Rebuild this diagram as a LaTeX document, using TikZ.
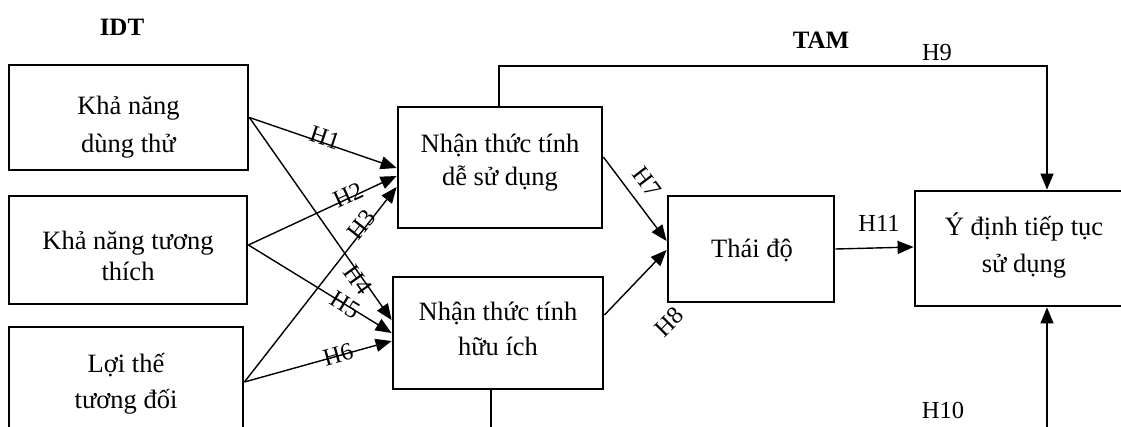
\documentclass[tikz,border=0pt]{standalone}
\usepackage{fontspec}
\setmainfont{Liberation Serif}
\usetikzlibrary{arrows.meta}
\begin{document}
\begin{tikzpicture}[x=1pt,y=-1pt,
  box/.style={draw,line width=2.8pt,rectangle,inner sep=0pt},
  txt/.style={align=center,anchor=base,inner sep=0pt,font=\fontsize{26.5}{35}\selectfont},
  hlab/.style={inner sep=0pt,font=\fontsize{24.5}{28}\selectfont},
  head/.style={inner sep=0pt,font=\fontsize{25}{28}\selectfont\bfseries},
  conn/.style={line width=1.4pt},
  arr/.style={conn,-{Triangle[length=16pt,width=13pt]}}]
\useasboundingbox (0,0) rectangle (1121,426);
\clip (0,0) rectangle (1121,426);
\fill[white] (0,0) rectangle (1121,426);
% boxes
\node[box,minimum width=239,minimum height=105] (b1) at (128.5,117.5) {};
\node[box,minimum width=238,minimum height=108] (b2) at (128,250) {};
\node[box,minimum width=234,minimum height=118] (b3) at (126,386) {};
\node[box,minimum width=204,minimum height=121] (dsd) at (500,167.5) {};
\node[box,minimum width=210,minimum height=112] (hi) at (498,333) {};
\node[box,minimum width=166,minimum height=106] (td) at (751,249) {};
\node[box,minimum width=216,minimum height=115] (yd) at (1023,248.5) {};
% texts (base anchor = last line's baseline)
\node[txt,font=\fontsize{26.5}{38}\selectfont] (t1) at (128.5,152) {Khả năng\\dùng thử};
\node[txt,font=\fontsize{26.5}{31}\selectfont] (t2) at (128,280) {Khả năng tương\\thích};
\node[txt,font=\fontsize{26.5}{36}\selectfont] (t3) at (126,408) {Lợi thế\\tương đối};
\node[txt,font=\fontsize{26.5}{33}\selectfont] (t4) at (500,185) {Nhận thức tính\\dễ sử dụng};
\node[txt] (t5) at (498,355) {Nhận thức tính\\hữu ích};
\node[txt] (t6) at (752,257) {Thái độ};
\node[txt,font=\fontsize{26.5}{37}\selectfont] (t7) at (1024,272) {Ý định tiếp tục\\sử dụng};
% headings
\node[head] (idt) at (122,27) {IDT};
\node[head] (tam) at (821,40) {TAM};
% connectors from IDT
\draw[arr] (b1.east) -- (dsd.west |- 0,168);
\draw[arr] (b1.east) -- (hi.west |- 0,320);
\draw[arr] (b2.east |- 0,245) -- (dsd.west |- 0,176);
\draw[arr] (b2.east |- 0,245) -- (hi.west |- 0,333);
\draw[arr] (b3.east |- 0,382) -- (dsd.west |- 0,187);
\draw[arr] (b3.east |- 0,382) -- (hi.west |- 0,341);
% TAM connectors
\draw[arr] (dsd.east |- 0,157) -- (td.west |- 0,241);
\draw[arr] (hi.east |- 0,315) -- (td.west |- 0,250);
\draw[arr] (td.east) -- (yd.west |- 0,247);
\coordinate (c9) at (1047,66);
\coordinate (c9s) at (499,66);
\draw[arr] (dsd.north -| c9s) -- (c9s) -- (c9) -- (c9 |- yd.north);
\coordinate (c10) at (1047,445);
\draw[arr] (c10) -- (c10 |- yd.south);
\coordinate (c10b) at (491,445);
\draw[conn] (hi.south -| c10b) -- (c10b);
% labels
\node[hlab,rotate=-18.4] (h1) at (325,138) {H1};
\node[hlab,rotate=24.7] (h2) at (348,195) {H2};
\node[hlab,rotate=51.6] (h3) at (362,225) {H3};
\node[hlab,rotate=-54.5] (h4) at (358,280) {H4};
\node[hlab,rotate=-31.5] (h5) at (345,305) {H5};
\node[hlab,rotate=15.8] (h6) at (338,355) {H6};
\node[hlab,rotate=-53] (h7) at (647,182) {H7};
\node[hlab,rotate=45] (h8) at (669,322) {H8};
\node[hlab] (h9) at (937,53) {H9};
\node[hlab] (h10) at (943,410) {H10};
\node[hlab] (h11) at (879,223) {H11};
\end{tikzpicture}
\end{document}
